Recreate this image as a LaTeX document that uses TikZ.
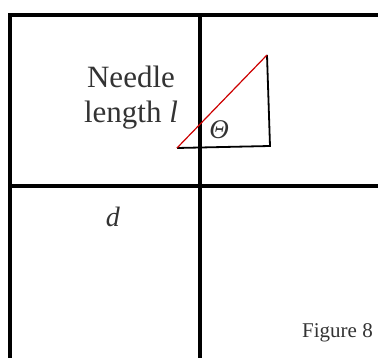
\documentclass[tikz,border=0pt]{standalone}
\usepackage{fontspec}
\setmainfont{Liberation Serif}
\begin{document}
\begin{tikzpicture}[x=1pt,y=-1pt,
  grid/.style={line width=3.3pt,black},
  tri/.style={line width=1.8pt,black,line join=miter},
  needle/.style={line width=1.2pt,red!80!black},
  lbl/.style={inner sep=0pt,text=black!80}]
\useasboundingbox (0,0) rectangle (378,358);
\coordinate (tl) at (10,15);
\coordinate (tr) at (378,15);
\coordinate (tm) at (200,15);
\coordinate (bl) at (10,358);
\coordinate (bm) at (200,358);
\coordinate (ml) at (10,186);
\coordinate (mr) at (378,186);
\draw[grid] (tr) -- (tl) -- (bl);
\draw[grid] (tm) -- (bm);
\draw[grid] (ml) -- (mr);
\coordinate (A) at (177,148);
\coordinate (B) at (267,55);
\coordinate (C) at (270,146);
\draw[tri] (B) -- (C) -- (A);
\draw[needle] (A) -- (B);
\node[lbl,align=center,font=\fontsize{31}{35}\selectfont,anchor=base] (needlelbl) at (131,123) {Needle\\length \textit{l}};
\node[lbl,font=\fontsize{27}{30}\selectfont] (theta) at (219,130) {\textit{Θ}};
\node[lbl,font=\fontsize{28}{30}\selectfont] (dl) at (113,217) {\textit{d}};
\node[lbl,font=\fontsize{21}{24}\selectfont,anchor=base west] (fig) at (302,338) {Figure 8};
\end{tikzpicture}
\end{document}
